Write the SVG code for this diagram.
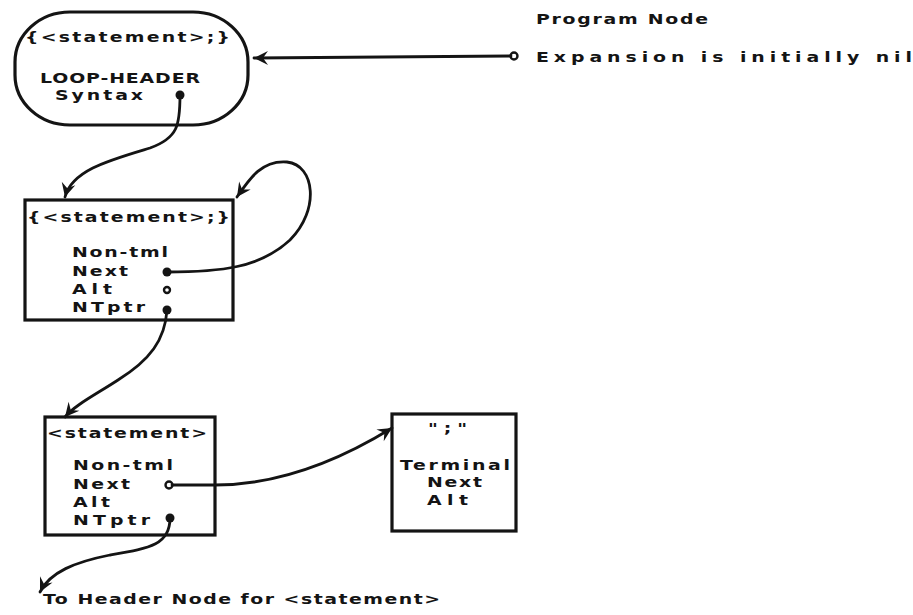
<svg xmlns="http://www.w3.org/2000/svg" width="913" height="615" viewBox="0 0 913 615">
<style>
  .bg { fill: #ffffff; }
  .box { fill: none; stroke: #141414; stroke-width: 3.2; }
  .t { font-family: "DejaVu Sans", "Liberation Sans", sans-serif; font-weight: bold; font-size: 14px; fill: #141414; transform: scale(1.35, 1); transform-origin: 0 0; }
  .conn { fill: none; stroke: #141414; stroke-width: 2.8; stroke-linecap: round; }
  .dot { fill: #141414; }
  .odot { fill: #ffffff; stroke: #141414; stroke-width: 2.4; }
</style>
<defs>
  <marker id="arr" viewBox="-15 -8 16 16" refX="0" refY="0" markerWidth="16" markerHeight="16" markerUnits="userSpaceOnUse" orient="auto">
    <path d="M0,0 L-14,-7 L-9,0 L-14,7 Z" fill="#141414"/>
  </marker>
</defs>
<rect class="bg" x="0" y="0" width="913" height="615"/>

<g id="program-node">
  <text class="t" x="397.04" y="24" textLength="127.41" lengthAdjust="spacing">Program Node</text>
  <text class="t" x="397.04" y="62" textLength="278.52" lengthAdjust="spacing">Expansion is initially nil</text>
  <circle class="odot" cx="514" cy="56" r="3.5"/>
</g>

<g id="loop-header">
  <rect class="box" x="15" y="12" width="233" height="113" rx="55" ry="50"/>
  <text class="t" x="18.52" y="42" textLength="151.85" lengthAdjust="spacing">{&lt;statement&gt;;}</text>
  <text class="t" x="29.63" y="83" textLength="118.52" lengthAdjust="spacing">LOOP-HEADER</text>
  <text class="t" x="40.74" y="100" textLength="65.19" lengthAdjust="spacing">Syntax</text>
  <circle class="dot" cx="180" cy="95" r="4.5"/>
</g>

<g id="loop-node">
  <rect class="box" x="25" y="200" width="208" height="120"/>
  <text class="t" x="20" y="222" textLength="150.37" lengthAdjust="spacing">{&lt;statement&gt;;}</text>
  <text class="t" x="53.33" y="257" textLength="71.11" lengthAdjust="spacing">Non-tml</text>
  <text class="t" x="53.33" y="276" textLength="41.48" lengthAdjust="spacing">Next</text>
  <text class="t" x="53.33" y="294" textLength="29.63" lengthAdjust="spacing">Alt</text>
  <text class="t" x="53.33" y="312" textLength="54.07" lengthAdjust="spacing">NTptr</text>
  <circle class="dot" cx="167" cy="272" r="4.5"/>
  <circle class="odot" cx="167" cy="290" r="3"/>
  <circle class="dot" cx="167" cy="310" r="4.5"/>
</g>

<g id="statement-node">
  <rect class="box" x="45" y="417" width="170" height="118"/>
  <text class="t" x="34.81" y="438" textLength="118.52" lengthAdjust="spacing">&lt;statement&gt;</text>
  <text class="t" x="54.07" y="470" textLength="74.07" lengthAdjust="spacing">Non-tml</text>
  <text class="t" x="54.07" y="489" textLength="42.22" lengthAdjust="spacing">Next</text>
  <text class="t" x="54.07" y="507" textLength="27.41" lengthAdjust="spacing">Alt</text>
  <text class="t" x="54.07" y="525" textLength="57.04" lengthAdjust="spacing">NTptr</text>
  <circle class="odot" cx="169" cy="485" r="3.5"/>
  <circle class="dot" cx="170" cy="518" r="4.5"/>
</g>

<g id="terminal-node">
  <rect class="box" x="392" y="414" width="124" height="117"/>
  <text class="t" x="317.04" y="433" textLength="28.89" lengthAdjust="spacing">";"</text>
  <text class="t" x="296.30" y="470" textLength="81.48" lengthAdjust="spacing">Terminal</text>
  <text class="t" x="316.30" y="487" textLength="40.74" lengthAdjust="spacing">Next</text>
  <text class="t" x="316.30" y="505" textLength="30.37" lengthAdjust="spacing">Alt</text>
</g>

<g id="header-ref">
  <text class="t" x="31.85" y="604" textLength="294.07" lengthAdjust="spacing">To Header Node for &lt;statement&gt;</text>
</g>

<g id="connectors">
  <path class="conn" d="M511,56 L254,58" marker-end="url(#arr)"/>
  <path class="conn" d="M180,95 C180,125 178,138 150,148 C110,160 72,170 65,197" marker-end="url(#arr)"/>
  <path class="conn" d="M167,272 C220,272 260,268 290,240 C320,210 315,165 287,162 C262,160 250,178 237,197" marker-end="url(#arr)"/>
  <path class="conn" d="M167,310 C165,340 150,360 118,380 C95,395 75,405 65,417" marker-end="url(#arr)"/>
  <path class="conn" d="M172,485 L215,485 C280,485 340,460 392,428" marker-end="url(#arr)"/>
  <path class="conn" d="M170,518 C170,545 150,548 110,555 C75,562 50,572 40,592" marker-end="url(#arr)"/>
</g>
</svg>
